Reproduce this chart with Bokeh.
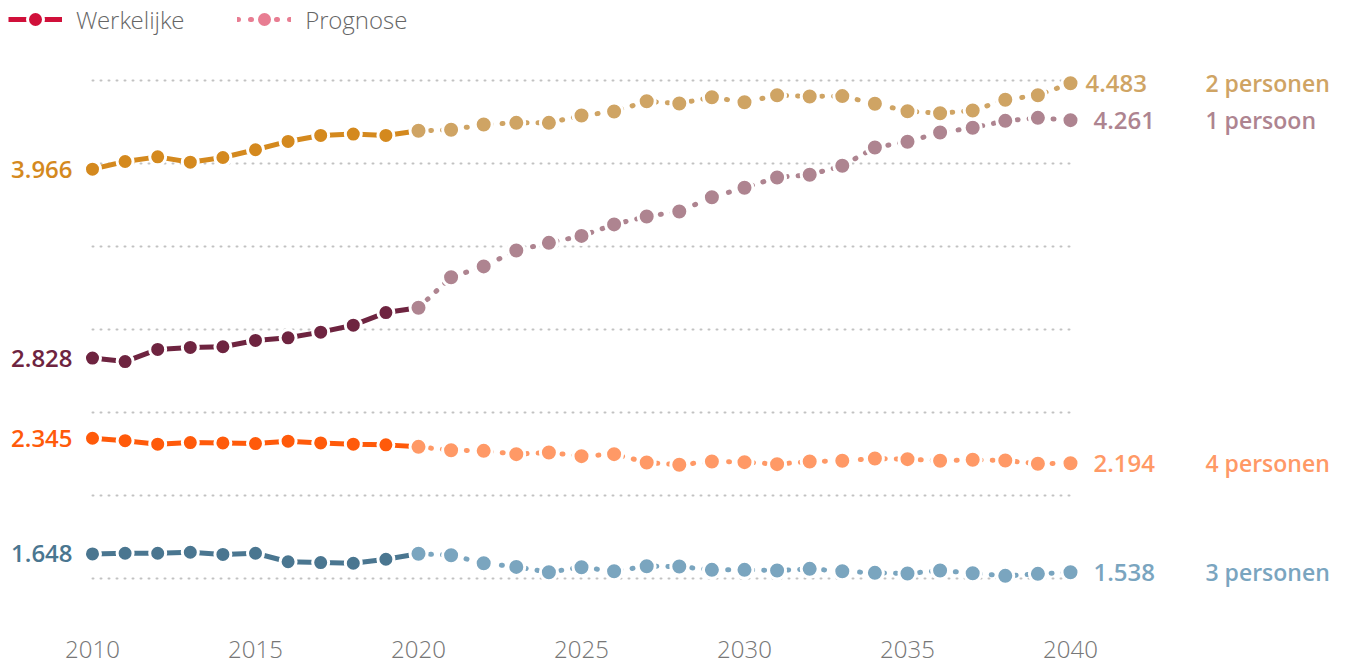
from bokeh.plotting import figure
from bokeh.models import Range1d, FixedTicker, Legend, LegendItem, ColumnDataSource
from bokeh.core.properties import value
from bokeh.embed import file_html
from bokeh.resources import INLINE

# ---------------- data ----------------
years_actual = list(range(2010, 2021))
years_forecast = list(range(2020, 2041))
year_ticks = [2010, 2015, 2020, 2025, 2030, 2035, 2040]
grid_values = [1.5, 2.0, 2.5, 3.0, 3.5, 4.0, 4.5]

categories = ["1 persoon", "2 personen", "3 personen", "4 personen"]

one_actual = [2.828, 2.807, 2.880, 2.892, 2.896, 2.934, 2.950, 2.984, 3.026, 3.102, 3.131]
one_forecast = [3.131, 3.315, 3.380, 3.476, 3.522, 3.564, 3.633, 3.681, 3.711, 3.797, 3.854,
                3.916, 3.932, 3.986, 4.096, 4.131, 4.187, 4.215, 4.257, 4.275, 4.261]
two_actual = [3.966, 4.012, 4.040, 4.008, 4.036, 4.083, 4.133, 4.169, 4.177, 4.169, 4.197]
two_forecast = [4.197, 4.203, 4.235, 4.245, 4.245, 4.289, 4.313, 4.375, 4.361, 4.399, 4.369,
                4.411, 4.404, 4.406, 4.360, 4.315, 4.303, 4.319, 4.384, 4.411, 4.483]
three_actual = [1.648, 1.652, 1.652, 1.658, 1.645, 1.652, 1.601, 1.596, 1.592, 1.616, 1.649]
three_forecast = [1.649, 1.640, 1.592, 1.570, 1.538, 1.568, 1.544, 1.574, 1.572, 1.552, 1.552,
                  1.548, 1.558, 1.544, 1.534, 1.530, 1.548, 1.532, 1.516, 1.528, 1.538]
four_actual = [2.345, 2.330, 2.309, 2.319, 2.317, 2.313, 2.327, 2.317, 2.309, 2.305, 2.293]
four_forecast = [2.293, 2.273, 2.269, 2.249, 2.259, 2.237, 2.249, 2.199, 2.185, 2.205, 2.201,
                 2.189, 2.205, 2.209, 2.223, 2.219, 2.209, 2.215, 2.211, 2.191, 2.194]

actual_series = [one_actual, two_actual, three_actual, four_actual]
forecast_series = [one_forecast, two_forecast, three_forecast, four_forecast]

# ---------------- styles ----------------
actual_colors = ["#6E2440", "#D4891E", "#4A7690", "#FF5A0A"]
forecast_colors = ["#AE8490", "#CFA464", "#7AA5BF", "#FF9966"]
legend_actual_color = "#D0103A"
legend_forecast_color = "#E87D92"
LABEL_FONT = value("Open Sans SemiBold, Open Sans")
LIGHT_FONT = "Open Sans Light, Open Sans"
FRAME_H = 628

p = figure(width=1345, height=665,
           x_range=Range1d(2007.178, 2048.436), y_range=Range1d(1.19880, 4.98193),
           output_backend="svg", toolbar_location=None,
           min_border_left=0, min_border_right=0, min_border_top=0, min_border_bottom=665 - FRAME_H,
           outline_line_color=None, background_fill_color="white")
p.yaxis.visible = False
p.xgrid.visible = False
p.ygrid.visible = False

xa = p.xaxis[0]
xa.ticker = FixedTicker(ticks=year_ticks)
xa.axis_line_color = None
xa.major_tick_line_color = None
xa.minor_tick_line_color = None
xa.major_label_standoff = 6
xa.major_label_text_font = LIGHT_FONT
xa.major_label_text_font_size = "24px"
xa.major_label_text_color = "#777777"

# dotted grid lines, only across the data span
p.segment(x0=[years_actual[0]] * len(grid_values), x1=[years_forecast[-1]] * len(grid_values),
          y0=grid_values, y1=grid_values, line_color="#c2c2c2", line_width=2,
          line_dash="1 7", line_cap="round")

for a_vals, f_vals, ac, fc in zip(actual_series, forecast_series, actual_colors, forecast_colors):
    p.line(years_actual, a_vals, line_color=ac, line_width=5)
    p.line(years_forecast, f_vals, line_color=fc, line_width=5, line_dash="1 11", line_cap="round")
    p.scatter(years_actual[:-1], a_vals[:-1], size=16, fill_color=ac, line_color="white", line_width=3)
    p.scatter(years_forecast, f_vals, size=17, fill_color=fc, line_color="white", line_width=3)

# left start labels
p.text(x=[years_actual[0]] * 4, y=[s[0] for s in actual_series],
       text=[f"{s[0]:.3f}" for s in actual_series],
       text_color=actual_colors, text_align="right", text_baseline="middle",
       x_offset=-20, text_font=LABEL_FONT, text_font_size="24px")

# right end value labels
end_offsets = [23, 15, 23, 23]
src_end = ColumnDataSource(dict(
    x=[years_forecast[-1]] * 4, y=[s[-1] for s in forecast_series],
    t=[f"{s[-1]:.3f}" for s in forecast_series], c=forecast_colors, xo=end_offsets))
p.text(x="x", y="y", text="t", text_color="c", x_offset="xo", source=src_end,
       text_align="left", text_baseline="middle",
       text_font=LABEL_FONT, text_font_size="24px")

# category labels
p.text(x=[years_forecast[-1]] * 4, y=[s[-1] for s in forecast_series], text=categories,
       text_color=forecast_colors, x_offset=135, text_align="left", text_baseline="middle",
       text_font=LABEL_FONT, text_font_size="23px")

# legend proxies (a single NaN point each, so nothing shows in the plot area)
nan = float("nan")
lg_a_line = p.line([nan], [nan], line_color=legend_actual_color, line_width=5)
lg_a_dot = p.scatter([nan], [nan], fill_color=legend_actual_color, line_color="white", line_width=3)
lg_f_line = p.line([nan], [nan], line_color=legend_forecast_color, line_width=5,
                   line_dash="1 12", line_cap="round")
lg_f_dot = p.scatter([nan], [nan], fill_color=legend_forecast_color, line_color="white", line_width=3)

legend = Legend(items=[LegendItem(label="Werkelijke", renderers=[lg_a_line, lg_a_dot]),
                       LegendItem(label="Prognose", renderers=[lg_f_line, lg_f_dot])],
                orientation="horizontal", location=(8, FRAME_H - 39), margin=0, padding=0,
                spacing=53, glyph_width=54, glyph_height=40, label_standoff=14,
                label_text_font=LIGHT_FONT, label_text_font_size="24px",
                label_text_color="#666666", background_fill_alpha=0, border_line_alpha=0)
p.add_layout(legend, "center")

open("out.html", "w").write(file_html(p, INLINE))
